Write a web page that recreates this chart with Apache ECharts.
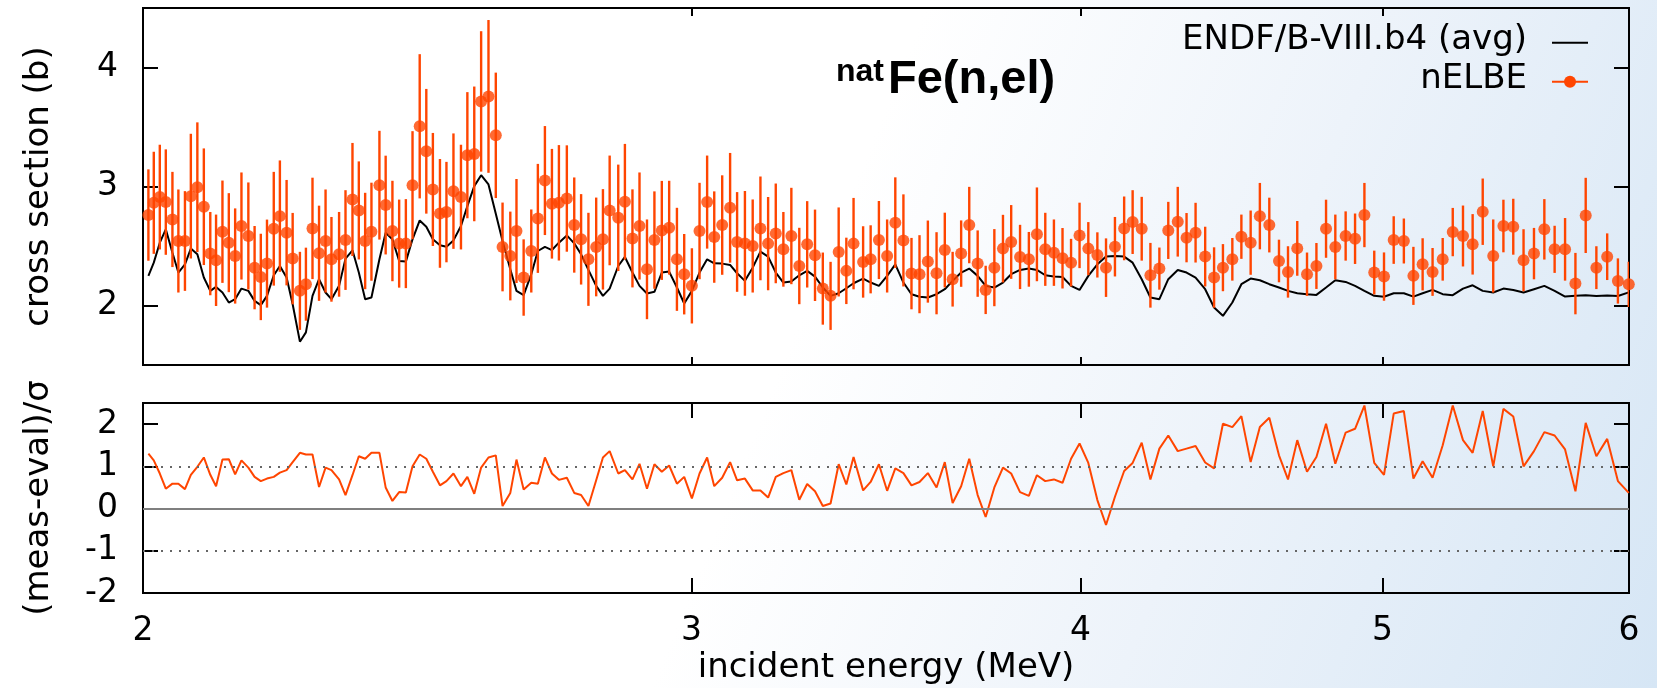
<!DOCTYPE html>
<html><head><meta charset="utf-8">
<script src="https://cdn.jsdelivr.net/npm/echarts@6/dist/echarts.min.js"></script>
<style>
html,body{margin:0;padding:0;width:1657px;height:688px;overflow:hidden;}
#c{width:1657px;height:688px;background:linear-gradient(112deg,#ffffff 0%,#ffffff 48%,#edf3fa 72%,#d6e6f5 100%);}
</style>
</head><body><div id="c"></div>
<script>
// incident energy (MeV) of each nELBE bin
const energy = [2.008,2.016,2.025,2.034,2.044,2.053,2.063,2.072,2.082,2.092,
2.102,2.111,2.121,2.131,2.141,2.151,2.162,2.172,2.182,2.192,
2.203,2.213,2.224,2.234,2.246,2.256,2.267,2.278,2.289,2.299,
2.312,2.323,2.335,2.346,2.357,2.368,2.382,2.393,2.405,2.417,
2.429,2.441,2.454,2.466,2.478,2.491,2.503,2.516,2.530,2.542,
2.555,2.568,2.582,2.596,2.609,2.624,2.636,2.650,2.665,2.678,
2.692,2.706,2.720,2.736,2.751,2.765,2.780,2.796,2.810,2.824,
2.842,2.856,2.872,2.887,2.903,2.919,2.935,2.951,2.968,2.984,
3.001,3.018,3.035,3.051,3.069,3.087,3.103,3.121,3.139,3.157,
3.175,3.193,3.211,3.230,3.249,3.268,3.287,3.306,3.325,3.345,
3.364,3.382,3.406,3.425,3.446,3.467,3.488,3.509,3.530,3.551,
3.573,3.596,3.618,3.639,3.662,3.684,3.707,3.729,3.753,3.777,
3.800,3.825,3.850,3.873,3.897,3.922,3.947,3.972,3.997,4.023,
4.050,4.076,4.103,4.131,4.157,4.185,4.212,4.240,4.268,4.298,
4.326,4.355,4.386,4.415,4.444,4.475,4.505,4.536,4.567,4.599,
4.632,4.663,4.695,4.729,4.762,4.796,4.829,4.866,4.900,4.934,
4.970,5.006,5.042,5.080,5.116,5.151,5.189,5.228,5.267,5.307,
5.345,5.385,5.427,5.468,5.508,5.550,5.593,5.636,5.679,5.723,
5.767,5.811,5.857,5.904,5.951,5.999];

// nELBE cross section (b)
const crossSection = [2.760,2.863,2.911,2.869,2.723,2.542,2.542,2.919,2.994,2.830,
2.436,2.380,2.620,2.528,2.416,2.668,2.584,2.318,2.240,2.352,
2.645,2.751,2.612,2.394,2.123,2.179,2.648,2.439,2.542,2.388,
2.430,2.550,2.891,2.799,2.542,2.620,3.011,2.844,2.626,2.520,
2.520,3.011,3.506,3.296,2.975,2.774,2.785,2.961,2.911,3.263,
3.274,3.715,3.757,3.430,2.492,2.416,2.626,2.235,2.458,2.732,
3.050,2.855,2.863,2.899,2.676,2.556,2.388,2.492,2.556,2.799,
2.737,2.872,2.564,2.668,2.304,2.550,2.631,2.654,2.388,2.263,
2.165,2.626,2.869,2.575,2.676,2.821,2.534,2.522,2.500,2.648,
2.520,2.606,2.472,2.584,2.332,2.514,2.422,2.142,2.081,2.450,
2.291,2.520,2.366,2.388,2.550,2.416,2.696,2.547,2.268,2.263,
2.369,2.271,2.466,2.221,2.436,2.676,2.352,2.131,2.318,2.478,
2.534,2.408,2.388,2.598,2.472,2.444,2.397,2.360,2.589,2.478,
2.425,2.318,2.494,2.648,2.701,2.645,2.254,2.310,2.631,2.704,
2.570,2.612,2.411,2.235,2.318,2.388,2.578,2.528,2.751,2.676,
2.374,2.282,2.480,2.263,2.332,2.645,2.492,2.584,2.561,2.760,
2.277,2.243,2.550,2.542,2.249,2.346,2.282,2.388,2.617,2.584,
2.514,2.788,2.416,2.668,2.662,2.380,2.436,2.640,2.472,2.472,
2.184,2.757,2.318,2.410,2.206,2.178];

// nELBE uncertainty (b), half length of the error bar
const crossSectionErr = [0.384,0.429,0.440,0.443,0.400,0.433,0.419,0.524,0.545,0.490,
0.350,0.384,0.430,0.416,0.400,0.450,0.450,0.350,0.363,0.370,
0.478,0.468,0.443,0.384,0.328,0.307,0.426,0.400,0.433,0.356,
0.356,0.419,0.475,0.412,0.405,0.412,0.457,0.415,0.422,0.370,
0.374,0.454,0.606,0.524,0.475,0.457,0.422,0.485,0.440,0.530,
0.566,0.590,0.642,0.527,0.373,0.373,0.437,0.321,0.349,0.458,
0.458,0.461,0.485,0.447,0.400,0.380,0.391,0.415,0.422,0.461,
0.447,0.486,0.412,0.450,0.419,0.409,0.416,0.394,0.433,0.338,
0.316,0.405,0.391,0.384,0.418,0.461,0.419,0.440,0.391,0.436,
0.392,0.419,0.314,0.405,0.321,0.363,0.384,0.303,0.286,0.374,
0.279,0.384,0.300,0.286,0.328,0.307,0.381,0.387,0.300,0.328,
0.345,0.345,0.314,0.230,0.279,0.321,0.279,0.203,0.324,0.284,
0.310,0.270,0.230,0.394,0.307,0.279,0.254,0.200,0.275,0.223,
0.190,0.246,0.250,0.268,0.268,0.268,0.272,0.177,0.240,0.293,
0.207,0.251,0.251,0.254,0.198,0.179,0.186,0.270,0.279,0.230,
0.179,0.216,0.230,0.182,0.193,0.244,0.272,0.207,0.212,0.270,
0.184,0.203,0.200,0.189,0.244,0.219,0.201,0.179,0.203,0.256,
0.254,0.279,0.307,0.221,0.235,0.261,0.216,0.254,0.198,0.263,
0.258,0.316,0.180,0.196,0.190,0.190];

// ENDF/B-VIII.b4 averaged cross section (b)
const evalXs = [2.249,2.360,2.528,2.640,2.444,2.277,2.346,2.478,2.430,2.235,
2.123,2.156,2.109,2.025,2.053,2.142,2.123,2.039,2.003,2.081,
2.254,2.332,2.235,2.011,1.696,1.774,2.081,2.221,2.109,2.053,
2.165,2.394,2.464,2.277,2.053,2.067,2.388,2.612,2.556,2.374,
2.369,2.556,2.715,2.662,2.556,2.506,2.494,2.547,2.668,2.835,
3.003,3.095,3.017,2.771,2.542,2.304,2.123,2.087,2.263,2.458,
2.492,2.466,2.528,2.589,2.522,2.430,2.299,2.165,2.081,2.142,
2.332,2.408,2.277,2.165,2.101,2.115,2.277,2.285,2.151,2.017,
2.123,2.277,2.388,2.355,2.352,2.341,2.271,2.207,2.318,2.453,
2.411,2.277,2.193,2.201,2.254,2.291,2.243,2.151,2.081,2.103,
2.145,2.187,2.226,2.193,2.165,2.249,2.346,2.193,2.095,2.073,
2.067,2.095,2.137,2.207,2.277,2.310,2.249,2.165,2.151,2.193,
2.263,2.299,2.310,2.299,2.254,2.243,2.240,2.165,2.131,2.249,
2.346,2.411,2.416,2.411,2.360,2.221,2.067,2.053,2.221,2.299,
2.277,2.235,2.137,1.983,1.913,2.025,2.179,2.226,2.212,2.179,
2.151,2.123,2.103,2.095,2.089,2.151,2.212,2.198,2.165,2.123,
2.081,2.073,2.103,2.103,2.075,2.103,2.131,2.095,2.087,2.142,
2.170,2.123,2.109,2.142,2.131,2.109,2.137,2.165,2.123,2.075,
2.081,2.087,2.080,2.085,2.080,2.110];

// (meas-eval)/sigma
const residual = [1.30,1.14,0.83,0.47,0.59,0.59,0.46,0.80,0.99,1.21,
0.80,0.53,1.16,1.17,0.81,1.14,0.97,0.75,0.65,0.71,
0.75,0.85,0.91,1.10,1.32,1.28,1.28,0.51,0.97,0.91,
0.69,0.32,0.79,1.24,1.18,1.32,1.32,0.50,0.18,0.39,
0.38,1.00,1.28,1.18,0.87,0.55,0.65,0.83,0.53,0.75,
0.35,0.97,1.21,1.26,0.06,0.37,1.16,0.45,0.61,0.59,
1.21,0.83,0.68,0.73,0.37,0.32,0.06,0.67,1.21,1.36,
0.83,0.91,0.69,1.06,0.47,1.05,0.87,1.02,0.59,0.75,
0.24,0.83,1.21,0.53,0.73,1.10,0.67,0.71,0.43,0.43,
0.26,0.75,0.84,0.91,0.21,0.58,0.41,0.06,0.12,1.05,
0.57,1.22,0.43,0.63,1.05,0.42,0.95,0.84,0.55,0.63,
0.84,0.50,1.10,0.13,0.53,1.18,0.32,-0.20,0.50,0.97,
0.83,0.39,0.30,0.79,0.65,0.69,0.61,1.18,1.54,1.08,
0.20,-0.39,0.28,0.89,1.08,1.56,0.69,1.42,1.73,1.36,
1.42,1.48,1.09,0.95,2.01,1.93,2.19,1.10,1.93,2.15,
1.26,0.69,1.62,0.87,1.22,2.01,1.06,1.80,1.89,2.44,
1.08,0.80,2.25,2.31,0.71,1.12,0.73,1.50,2.44,1.62,
1.32,2.31,1.00,2.36,2.18,1.00,1.36,1.81,1.73,1.40,
0.41,2.03,1.24,1.65,0.65,0.37];

const xTickValues = [2, 3, 4, 5, 6];
const yTopTicks = [2, 3, 4];
const yBottomTicks = [-2, -1, 0, 1, 2];
const referenceLines = [-1, 0, 1];

const FONT = 'DejaVu Sans';
const ORANGE = '#ff4500';
const tickLine = {color: '#000', width: 2};

function xAxisDef(gridIndex, position, tickLen, withLabels, name) {
  const ax = {
    gridIndex, type: 'log', logBase: 10, min: 2, max: 6, position,
    axisLine: {show: false, onZero: false}, splitLine: {show: false}, minorTick: {show: false},
    axisTick: {show: true, inside: true, length: tickLen, lineStyle: tickLine, customValues: xTickValues},
    axisLabel: {show: withLabels, customValues: xTickValues, margin: 22, color: '#000',
      fontSize: 33, fontFamily: FONT, formatter: v => String(Math.round(v))}
  };
  if (name) {
    ax.name = name; ax.nameLocation = 'middle'; ax.nameGap = 58;
    ax.nameTextStyle = {color: '#000', fontSize: 34, fontFamily: FONT};
  }
  return ax;
}
function yAxisDef(gridIndex, position, min, max, ticks, withLabels, name) {
  const ax = {
    gridIndex, type: 'value', min, max, position,
    axisLine: {show: false, onZero: false}, splitLine: {show: false}, minorTick: {show: false},
    axisTick: {show: true, inside: true, length: 15, lineStyle: tickLine, customValues: ticks},
    axisLabel: {show: withLabels, customValues: ticks, margin: 25, color: '#000',
      fontSize: 33, fontFamily: FONT}
  };
  if (name) {
    ax.name = name; ax.nameLocation = 'middle'; ax.nameGap = 87; ax.nameRotate = 90;
    ax.nameTextStyle = {color: '#000', fontSize: 34, fontFamily: FONT};
  }
  return ax;
}

const chart = echarts.init(document.getElementById('c'), null, {renderer: 'canvas', width: 1657, height: 688});
chart.setOption({
  animation: false,
  backgroundColor: 'transparent',
  grid: [
    {left: 143, right: 28, top: 8, height: 357, show: true, borderColor: '#000', borderWidth: 2, backgroundColor: 'transparent', outerBoundsMode: 'none'},
    {left: 143, right: 28, top: 403, height: 190, show: true, borderColor: '#000', borderWidth: 2, backgroundColor: 'transparent', outerBoundsMode: 'none'}
  ],
  xAxis: [
    xAxisDef(0, 'bottom', 8, false),
    xAxisDef(0, 'top', 8, false),
    xAxisDef(1, 'bottom', 15, true, 'incident energy (MeV)'),
    xAxisDef(1, 'top', 15, false)
  ],
  yAxis: [
    yAxisDef(0, 'left', 1.5, 4.5, yTopTicks, true, 'cross section (b)'),
    yAxisDef(0, 'right', 1.5, 4.5, yTopTicks, false),
    yAxisDef(1, 'left', -2, 2.5, yBottomTicks, true, '(meas-eval)/σ'),
    yAxisDef(1, 'right', -2, 2.5, yBottomTicks, false)
  ],
  series: [
    {
      name: 'ENDF/B-VIII.b4 (avg)', type: 'line', xAxisIndex: 0, yAxisIndex: 0,
      data: energy.map((e, i) => [e, evalXs[i]]),
      symbol: 'none', lineStyle: {color: '#000', width: 2}, z: 3, silent: true
    },
    {
      name: 'nELBE', type: 'custom', xAxisIndex: 0, yAxisIndex: 0, clip: true,
      data: energy.map((e, i) => [e, crossSection[i], crossSectionErr[i]]),
      encode: {x: 0, y: 1},
      renderItem: (params, api) => {
        const e = api.value(0), v = api.value(1), s = api.value(2);
        const a = api.coord([e, v - s]);
        const b = api.coord([e, v + s]);
        return {type: 'line', shape: {x1: a[0], y1: a[1], x2: b[0], y2: b[1]},
                style: {stroke: ORANGE, lineWidth: 2.4}};
      },
      z: 4, silent: true
    },
    {
      name: 'nELBE', type: 'scatter', xAxisIndex: 0, yAxisIndex: 0,
      data: energy.map((e, i) => [e, crossSection[i]]),
      symbol: 'circle', symbolSize: 12, itemStyle: {color: ORANGE}, z: 5, silent: true
    },
    {
      name: 'reference', type: 'line', xAxisIndex: 2, yAxisIndex: 2, data: [], z: 1,
      markLine: {
        silent: true, symbol: 'none', label: {show: false},
        data: referenceLines.map(r => ({
          yAxis: r,
          lineStyle: r === 0 ? {type: 'solid', color: '#7f7f7f', width: 2}
                             : {type: [2, 7], color: '#666', width: 2}
        }))
      }
    },
    {
      name: '(meas-eval)/σ', type: 'line', xAxisIndex: 2, yAxisIndex: 2,
      data: energy.map((e, i) => [e, residual[i]]),
      symbol: 'none', lineStyle: {color: ORANGE, width: 2}, z: 4, silent: true
    }
  ],
  graphic: [
    {type: 'text', x: 836, y: 72, style: {text: 'nat', fill: '#000', fontSize: 32, fontWeight: 'bold', fontFamily: 'Liberation Sans', align: 'left', verticalAlign: 'middle'}},
    {type: 'text', x: 888, y: 80.5, style: {text: 'Fe(n,el)', fill: '#000', fontSize: 47, fontWeight: 'bold', fontFamily: 'Liberation Sans', align: 'left', verticalAlign: 'middle'}},
    {type: 'text', x: 1527, y: 40.5, style: {text: 'ENDF/B-VIII.b4 (avg)', fill: '#000', fontSize: 34, fontFamily: FONT, align: 'right', verticalAlign: 'middle'}},
    {type: 'text', x: 1527, y: 79, style: {text: 'nELBE', fill: '#000', fontSize: 34, fontFamily: FONT, align: 'right', verticalAlign: 'middle'}},
    {type: 'line', shape: {x1: 1552, y1: 42.7, x2: 1588, y2: 42.7}, style: {stroke: '#000', lineWidth: 2}},
    {type: 'line', shape: {x1: 1552, y1: 81.7, x2: 1588, y2: 81.7}, style: {stroke: ORANGE, lineWidth: 2}},
    {type: 'circle', shape: {cx: 1570, cy: 81.7, r: 6}, style: {fill: ORANGE}}
  ]
});
</script>
</body></html>
